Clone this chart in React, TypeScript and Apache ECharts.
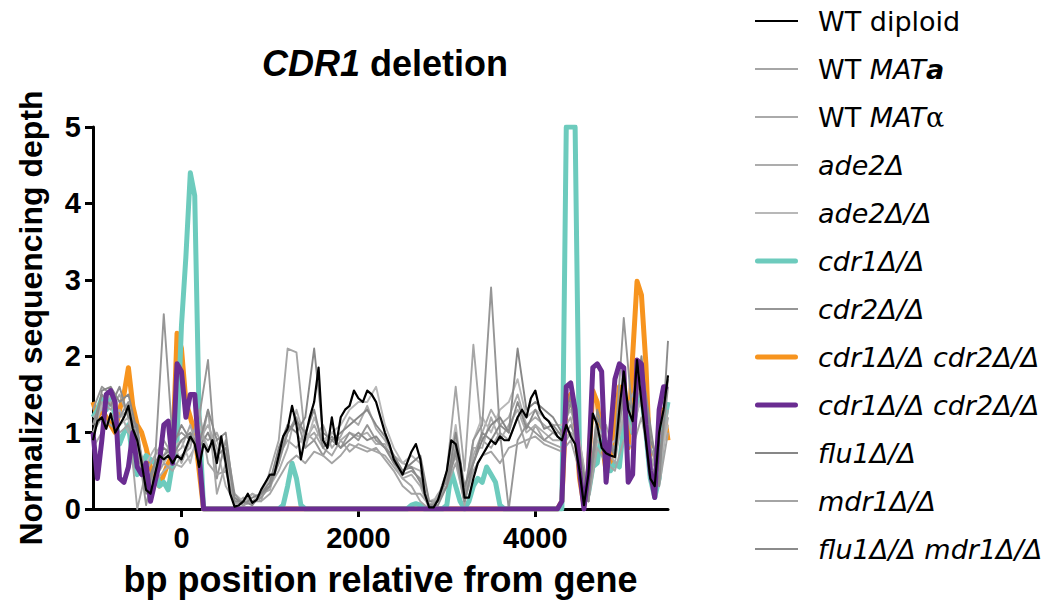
import React, { useEffect, useRef } from "react";
import * as echarts from "echarts";

// bp positions (regular grids)
const xFine: number[] = Array.from({ length: 131 }, (_, i) => -1000 + 50 * i);
const xCoarse: number[] = Array.from({ length: 66 }, (_, i) => -1000 + 100 * i);

const xTicks = [0, 2000, 4000];
const yTicks = [0, 1, 2, 3, 4, 5];

// step 50 bp
const wtDiploid = [
  0.9, 1.15, 1.2, 1.05, 1.25, 1.0, 1.1, 1.2, 1.35, 1.05,
  0.9, 0.6, 0.25, 0.2, 0.45, 0.7, 0.65, 0.7, 0.6, 0.7,
  0.65, 0.8, 0.95, 0.85, 0.55, 0.85, 0.75, 0.9, 0.6, 0.95,
  0.6, 0.2, 0.03, 0.05, 0.1, 0.2, 0.08, 0.12, 0.25, 0.35,
  0.45, 0.45, 0.7, 0.95, 1.05, 1.35, 1.1, 0.65, 0.95, 1.2,
  1.4, 1.85, 0.9, 0.8, 1.2, 0.85, 1.2, 1.3, 1.35, 1.55,
  1.45, 1.4, 1.55, 1.5, 1.4, 1.2, 1.0, 0.85, 0.65, 0.55,
  0.45, 0.6, 0.75, 0.85, 0.65, 0.2, 0.02, 0.02, 0.12, 0.3,
  0.5, 0.9, 0.85, 0.6, 0.15, 0.15, 0.4, 0.6, 0.7, 0.8,
  0.9, 0.85, 0.95, 0.9, 0.9, 1.05, 1.2, 1.3, 1.2, 1.45,
  1.55, 1.3, 1.2, 1.15, 1.05, 0.95, 0.9, 1.1, 0.95, 0.85,
  0.5, 0.05, 0.45, 1.25, 1.1, 0.8, 0.73, 0.7, 0.68, 1.3,
  1.8, 1.3, 1.15, 1.95, 1.4, 0.9, 0.4, 0.3, 1.0, 1.3,
  1.75,
];

const cdr1 = [
  1.2, 1.3, 1.45, 1.3, 1.5, 1.2, 0.85, 1.0, 1.1, 0.65,
  0.45, 0.55, 0.7, 0.65, 0.6, 0.3, 0.35, 0.25, 0.6, 0.9,
  2.4, 3.3, 4.4, 4.1, 1.2, 0, 0, 0, 0, 0,
  0, 0, 0, 0, 0, 0, 0, 0, 0, 0,
  0, 0, 0, 0.05, 0.3, 0.6, 0.4, 0.05, 0, 0,
  0, 0, 0, 0, 0, 0, 0, 0, 0, 0,
  0, 0, 0, 0, 0, 0, 0, 0, 0, 0,
  0, 0, 0.05, 0.07, 0.05, 0, 0, 0, 0, 0,
  0.05, 0.5, 0.3, 0.1, 0, 0.1, 0.3, 0.4, 0.35, 0.55,
  0.45, 0.35, 0.05, 0, 0, 0, 0, 0, 0, 0,
  0, 0, 0, 0, 0, 0, 0, 5.0, 5.0, 5.0,
  0.6, 0.25, 0.2, 0.55, 0.6, 1.0, 0.7, 0.5, 0.6, 0.55,
  1.1, 1.3, 1.0, 1.4, 1.5, 1.0, 0.4, 0.15, 0.4, 1.1,
  1.4,
];

const cdr1cdr2A = [
  1.4, 1.2, 1.3, 1.2, 1.1, 1.0, 1.3, 1.5, 1.85, 1.35,
  1.1, 1.0, 0.8, 0.55, 0.4, 0.3, 0.45, 0.6, 0.7, 2.3,
  2.1, 1.4, 1.2, 1.0, 0.5, 0, 0, 0, 0, 0,
  0, 0, 0, 0, 0, 0, 0, 0, 0, 0,
  0, 0, 0, 0, 0, 0, 0, 0, 0, 0,
  0, 0, 0, 0, 0, 0, 0, 0, 0, 0,
  0, 0, 0, 0, 0, 0, 0, 0, 0, 0,
  0, 0, 0, 0, 0, 0, 0, 0, 0, 0,
  0, 0, 0, 0, 0, 0, 0, 0, 0, 0,
  0, 0, 0, 0, 0, 0, 0, 0, 0, 0,
  0, 0, 0, 0, 0, 0, 0.1, 1.4, 1.5, 1.2,
  0.4, 0.05, 0.5, 1.55, 1.4, 0.9, 0.5, 0.6, 1.1, 1.6,
  1.5, 0.8, 2.0, 2.98, 2.8, 1.9, 0.5, 0.2, 0.9, 1.3,
  0.9,
];

const cdr1cdr2B = [
  1.0, 0.4, 0.9, 1.5, 1.55, 1.4, 0.4, 0.35, 0.55, 1.0,
  0.55, 0.45, 0.6, 0.1, 0.35, 0.6, 1.1, 1.15, 0.6, 1.9,
  1.8, 1.2, 1.5, 1.5, 0.7, 0, 0, 0, 0, 0,
  0, 0, 0, 0, 0, 0, 0, 0, 0, 0,
  0, 0, 0, 0, 0, 0, 0, 0, 0, 0,
  0, 0, 0, 0, 0, 0, 0, 0, 0, 0,
  0, 0, 0, 0, 0, 0, 0, 0, 0, 0,
  0, 0, 0, 0, 0, 0, 0, 0, 0, 0,
  0, 0, 0, 0, 0, 0, 0, 0, 0, 0,
  0, 0, 0, 0, 0, 0, 0, 0, 0, 0,
  0, 0, 0, 0, 0, 0, 0.1, 1.6, 1.65, 1.3,
  0.5, 0.0, 0.5, 1.85, 1.9, 1.8, 0.35, 1.0, 1.7, 1.9,
  1.85, 0.35, 0.45, 1.95, 1.9, 1.1, 0.5, 0.15, 1.3, 1.6,
  1.6,
];

// step 100 bp
const wtMATa = [
  1.1, 1.4, 1.3, 1.5, 1.2, 0.0, 0.5, 0.7, 0.9, 0.7,
  0.8, 1.1, 0.7, 1.3, 0.2, 0.6, 0.1, 0.1, 0.2, 0.1,
  0.5, 0.9, 2.1, 2.05, 0.9, 1.0, 0.8, 0.7, 0.9, 0.75,
  0.85, 0.8, 0.75, 0.7, 0.55, 0.4, 0.3, 0.1, 0.0, 0.15,
  0.5, 1.6, 0.5, 2.15, 0.9, 0.8, 1.0, 0.9, 1.2, 0.8,
  1.1, 0.9, 0.85, 0.8, 1.0, 0.9, 0.2, 1.1, 0.8, 0.6,
  1.4, 1.3, 1.6, 0.5, 0.9, 1.2,
];
const wtMATalpha = [
  1.2, 1.3, 1.4, 1.2, 1.3, 0.7, 0.4, 0.5, 0.7, 0.9,
  0.6, 0.9, 1.0, 0.9, 1.0, 0.7, 0.05, 0.15, 0.05, 0.2,
  0.25, 0.7, 0.9, 0.8, 1.0, 0.9, 1.1, 0.8, 0.95, 1.2,
  1.1, 1.35, 1.05, 0.9, 0.7, 0.6, 0.55, 0.5, 0.0, 0.2,
  0.35, 0.7, 0.05, 0.7, 1.0, 1.3, 1.1, 1.2, 1.5, 1.1,
  1.2, 1.1, 1.0, 1.0, 1.2, 0.6, 0.1, 1.0, 1.1, 0.7,
  1.2, 1.5, 1.7, 1.0, 0.5, 1.3,
];
const ade2 = [
  0.8, 1.0, 1.2, 1.3, 1.0, 0.9, 0.5, 0.35, 0.5, 0.6,
  0.55, 0.7, 0.9, 1.1, 0.8, 0.3, 0.1, 0.05, 0.2, 0.15,
  0.3, 0.5, 0.8, 1.3, 0.9, 1.1, 0.85, 1.0, 0.9, 1.0,
  0.95, 1.0, 0.85, 0.85, 0.6, 0.4, 0.45, 0.3, 0.0, 0.1,
  0.45, 0.9, 0.15, 0.8, 0.8, 1.2, 0.9, 1.1, 1.3, 1.0,
  1.1, 1.0, 0.9, 0.9, 1.0, 0.8, 0.15, 0.9, 0.75, 0.8,
  1.3, 1.0, 1.5, 0.7, 0.4, 1.2,
];
const ade2hom = [
  1.0, 1.35, 1.5, 1.1, 1.2, 0.6, 0.6, 0.8, 0.6, 0.8,
  0.9, 0.6, 1.1, 0.8, 0.9, 0.6, 0.2, 0.1, 0.1, 0.2,
  0.4, 0.6, 1.1, 1.0, 0.8, 1.2, 0.9, 1.0, 1.1, 1.3,
  1.4, 1.4, 1.6, 1.1, 0.8, 0.6, 0.7, 0.6, 0.1, 0.15,
  0.4, 1.1, 0.2, 0.9, 1.2, 1.0, 1.3, 1.4, 1.7, 1.2,
  1.3, 1.2, 1.1, 1.1, 1.3, 0.9, 0.1, 1.1, 0.8, 0.9,
  1.3, 1.2, 1.4, 0.8, 0.6, 1.1,
];
const cdr2 = [
  1.3, 1.6, 1.5, 1.2, 1.4, 0.9, 0.05, 0.6, 2.55, 0.9,
  1.0, 0.9, 1.2, 1.95, 0.4, 0.9, 0.2, 0.05, 0.1, 0.15,
  0.3, 0.6, 1.0, 1.2, 0.8, 0.9, 0.7, 0.9, 0.8, 1.0,
  0.9, 1.1, 0.9, 0.8, 0.7, 0.45, 0.5, 0.4, 0.05, 0.1,
  0.4, 0.8, 0.2, 0.9, 1.1, 2.9, 1.0, 0.0, 0.9, 1.1,
  1.0, 0.9, 1.0, 0.9, 1.1, 0.8, 0.1, 1.0, 0.9, 0.8,
  2.5, 1.2, 1.8, 0.8, 0.5, 1.6,
];
const flu1 = [
  0.9, 1.55, 1.6, 1.4, 1.5, 1.0, 0.3, 0.6, 0.8, 0.7,
  0.9, 1.0, 0.8, 1.0, 0.7, 0.8, 0.15, 0.05, 0.15, 0.2,
  0.35, 0.8, 1.1, 1.0, 1.2, 2.1, 1.0, 0.9, 1.0, 1.1,
  1.2, 1.3, 1.1, 0.95, 0.7, 0.5, 0.6, 0.7, 0.1, 0.1,
  0.3, 1.0, 0.3, 0.6, 0.9, 1.1, 1.2, 1.0, 2.1, 1.3,
  1.4, 1.3, 1.2, 1.0, 1.5, 0.7, 0.2, 1.2, 0.9, 0.7,
  1.6, 1.1, 2.0, 0.9, 0.6, 1.7,
];
const mdr1 = [
  1.0, 1.2, 1.1, 1.0, 1.1, 0.8, 0.3, 0.4, 0.6, 0.5,
  0.7, 0.8, 1.3, 0.6, 0.45, 0.5, 0.1, 0.05, 0.1, 0.1,
  0.2, 0.4, 0.6, 0.7, 0.6, 0.75, 0.7, 0.6, 0.7, 0.85,
  0.8, 0.75, 0.8, 0.65, 0.5, 0.3, 0.2, 0.2, 0.05, 0.15,
  0.3, 0.6, 0.1, 0.5, 0.7, 0.75, 0.6, 0.8, 0.85, 0.9,
  0.95, 0.85, 0.8, 0.75, 0.9, 0.5, 0.1, 0.8, 0.6, 0.5,
  0.9, 0.8, 1.2, 0.6, 0.3, 1.0,
];
const flu1mdr1 = [
  1.1, 1.5, 1.35, 1.6, 1.2, 1.1, 0.2, 0.6, 0.7, 0.8,
  1.1, 0.9, 0.85, 1.3, 0.9, 1.0, 0.1, 0.1, 0.05, 0.2,
  0.3, 0.65, 1.0, 1.15, 1.0, 1.3, 0.8, 0.95, 0.8, 0.9,
  1.0, 0.9, 0.95, 0.8, 0.6, 0.5, 0.55, 0.35, 0.05, 0.05,
  0.3, 0.75, 0.1, 0.6, 1.0, 0.9, 1.1, 1.0, 1.4, 1.05,
  1.3, 1.05, 1.1, 0.95, 1.4, 0.7, 0.1, 1.3, 0.9, 0.75,
  1.5, 1.3, 1.9, 1.1, 0.3, 2.2,
];

const legendOrder = [
  "WT diploid",
  "WT MATa",
  "WT MATα",
  "ade2Δ",
  "ade2Δ/Δ",
  "cdr1Δ/Δ",
  "cdr2Δ/Δ",
  "cdr1Δ/Δ cdr2Δ/Δ",
  "cdr1Δ/Δ cdr2Δ/Δ (2)",
  "flu1Δ/Δ",
  "mdr1Δ/Δ",
  "flu1Δ/Δ mdr1Δ/Δ",
];
const thickLegend = ["cdr1Δ/Δ", "cdr1Δ/Δ cdr2Δ/Δ", "cdr1Δ/Δ cdr2Δ/Δ (2)"];

const legendRich: Record<string, string> = {
  "WT diploid": "{s| }{n|WT diploid}",
  "WT MATa": "{s| }{n|WT }{i|MAT}{bi|a}",
  "WT MATα": "{s| }{n|WT }{i|MAT}{g|α}",
  "ade2Δ": "{s| }{i|ade2Δ}",
  "ade2Δ/Δ": "{s| }{i|ade2Δ/Δ}",
  "cdr1Δ/Δ": "{s| }{i|cdr1Δ/Δ}",
  "cdr2Δ/Δ": "{s| }{i|cdr2Δ/Δ}",
  "cdr1Δ/Δ cdr2Δ/Δ": "{s| }{i|cdr1Δ/Δ cdr2Δ/Δ}",
  "cdr1Δ/Δ cdr2Δ/Δ (2)": "{s| }{i|cdr1Δ/Δ cdr2Δ/Δ}",
  "flu1Δ/Δ": "{s| }{i|flu1Δ/Δ}",
  "mdr1Δ/Δ": "{s| }{i|mdr1Δ/Δ}",
  "flu1Δ/Δ mdr1Δ/Δ": "{s| }{i|flu1Δ/Δ mdr1Δ/Δ}",
};

const FONT = "Liberation Sans";
const LEGEND_FONT = "DejaVu Sans";
const THIN_ICON = "path://M0,0h43v2h-43z";
const THICK_ICON = "path://M2.5,0h38a2.5,2.5 0 0 1 0,5h-38a2.5,2.5 0 0 1 0,-5z";

function pairs(xs: number[], ys: number[]) {
  return xs.map((x, i) => [x, ys[i]]);
}

function lineSeries(name: string, xs: number[], ys: number[], color: string, width: number) {
  return {
    name,
    type: "line",
    data: pairs(xs, ys),
    symbol: "none",
    showSymbol: false,
    lineStyle: { color, width, join: "round" },
    itemStyle: { color },
    emphasis: { disabled: true },
  };
}

export default function App() {
  const ref = useRef<HTMLDivElement>(null);
  useEffect(() => {
    if (!ref.current) return;
    const chart = echarts.init(ref.current, undefined, { renderer: "svg" });
    const series = [
      lineSeries("cdr1Δ/Δ cdr2Δ/Δ", xFine, cdr1cdr2A, "#f7941e", 5),
      lineSeries("cdr1Δ/Δ", xFine, cdr1, "#6dcbbd", 5),
      lineSeries("WT MATa", xCoarse, wtMATa, "#a6a6a6", 1.9),
      lineSeries("WT MATα", xCoarse, wtMATalpha, "#aaaaaa", 1.9),
      lineSeries("ade2Δ", xCoarse, ade2, "#adadad", 1.9),
      lineSeries("ade2Δ/Δ", xCoarse, ade2hom, "#b8b8b8", 1.9),
      lineSeries("cdr2Δ/Δ", xCoarse, cdr2, "#969696", 1.9),
      lineSeries("flu1Δ/Δ", xCoarse, flu1, "#878787", 1.9),
      lineSeries("mdr1Δ/Δ", xCoarse, mdr1, "#a4a4a4", 1.9),
      lineSeries("flu1Δ/Δ mdr1Δ/Δ", xCoarse, flu1mdr1, "#8b8b8b", 1.9),
      lineSeries("cdr1Δ/Δ cdr2Δ/Δ (2)", xFine, cdr1cdr2B, "#6a2c91", 5),
      lineSeries("WT diploid", xFine, wtDiploid, "#000000", 2.2),
    ];
    const baseText = { fontFamily: LEGEND_FONT, fontSize: 27, color: "#000", lineHeight: 28 };
    chart.setOption({
      animation: false,
      backgroundColor: "#ffffff",
      title: {
        text: "{i|CDR1} {b|deletion}",
        left: 380,
        top: 40,
        textAlign: "center",
        textStyle: {
          fontFamily: FONT,
          fontSize: 36,
          fontWeight: "bold",
          color: "#000",
          rich: {
            i: { fontFamily: FONT, fontSize: 36, fontWeight: "bold", fontStyle: "italic", color: "#000" },
            b: { fontFamily: FONT, fontSize: 36, fontWeight: "bold", color: "#000" },
          },
        },
      },
      legend: {
        orient: "vertical",
        left: 755,
        top: 7,
        padding: 0,
        itemGap: 20,
        itemWidth: 43,
        itemHeight: 14,
        data: legendOrder.map((n) => ({ name: n, icon: thickLegend.includes(n) ? THICK_ICON : THIN_ICON })),
        selectedMode: false,
        formatter: (name: string) => legendRich[name] || name,
        textStyle: {
          ...baseText,
          rich: {
            s: { ...baseText, width: 15 },
            n: { ...baseText },
            i: { ...baseText, fontStyle: "italic" },
            bi: { ...baseText, fontStyle: "italic", fontWeight: "bold" },
            g: { ...baseText, fontFamily: "DejaVu Serif" },
          },
        },
      },
      grid: { left: 93, top: 127, width: 575, height: 382, containLabel: false },
      xAxis: {
        type: "value",
        min: -1000,
        max: 5500,
        name: "bp position relative from gene",
        nameLocation: "middle",
        nameGap: 52,
        nameTextStyle: { fontFamily: FONT, fontSize: 36, fontWeight: "bold", color: "#000" },
        axisLine: { show: true, onZero: false, lineStyle: { color: "#000", width: 3 } },
        axisTick: { show: true, length: 8, lineStyle: { color: "#000", width: 3 }, customValues: xTicks },
        axisLabel: {
          fontFamily: FONT,
          fontSize: 29,
          fontWeight: "bold",
          color: "#000",
          margin: 14,
          customValues: xTicks,
          formatter: (v: number) => String(v),
        },
        splitLine: { show: false },
      },
      yAxis: {
        type: "value",
        min: 0,
        max: 5,
        interval: 1,
        name: "Normalized sequencing depth",
        nameLocation: "middle",
        nameGap: 46,
        nameRotate: 90,
        nameTextStyle: { fontFamily: FONT, fontSize: 32, fontWeight: "bold", color: "#000" },
        axisLine: { show: true, onZero: false, lineStyle: { color: "#000", width: 3 } },
        axisTick: { show: true, length: 8, lineStyle: { color: "#000", width: 3 }, customValues: yTicks },
        axisLabel: {
          fontFamily: FONT,
          fontSize: 29,
          fontWeight: "bold",
          color: "#000",
          margin: 12,
          formatter: (v: number) => String(v),
        },
        splitLine: { show: false },
      },
      series,
    });
    return () => chart.dispose();
  }, []);
  return (
    <div
      ref={ref}
      style={{ position: "fixed", left: 0, top: 0, width: 1046, height: 604, background: "#fff" }}
    />
  );
}
